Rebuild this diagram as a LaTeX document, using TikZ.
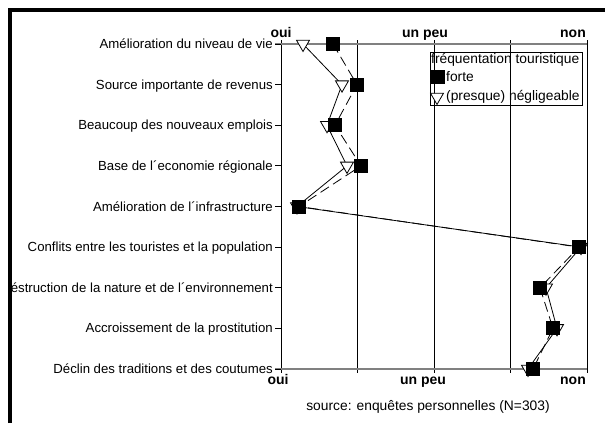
\documentclass[tikz,border=0pt]{standalone}
\usepackage{fontspec}
\setmainfont{Liberation Sans}
\usetikzlibrary{positioning,shapes.geometric,backgrounds}

\tikzset{
  axislbl/.style={font=\fontsize{14}{16}\selectfont\bfseries,inner sep=0pt},
  rowlbl/.style={anchor=base east,font=\fontsize{13.2}{15}\selectfont,inner sep=0pt},
  lgd/.style={anchor=base west,font=\fontsize{13.8}{15}\selectfont,inner sep=0pt},
  forte/.style={fill=black,minimum size=14pt,inner sep=0pt},
  faible/.style={regular polygon,regular polygon sides=3,shape border rotate=180,
    draw=black,fill=white,minimum size=15pt,inner sep=0pt,line width=0.8pt},
}

\begin{document}
\begin{tikzpicture}[x=1pt,y=-1pt]
\useasboundingbox (0,0) rectangle (605,423);

% grille
\foreach \x in {281,357.5,434,510.5,587}
  \draw[line width=0.9pt] (\x,40) -- (\x,373);
\draw[gray,line width=1.2pt] (275,44) -- (587,44);
\draw[gray,line width=1.2pt] (275,369) -- (587,369);

% echelle
\node[axislbl,anchor=base] (ouiH) at (281,37) {oui};
\node[axislbl,anchor=base] (peuH) at (425,37) {un peu};
\node[axislbl,anchor=base east] (nonH) at (586,37) {non};
\node[axislbl,anchor=base] (ouiB) at (278,384) {oui};
\node[axislbl,anchor=base] (peuB) at (423,384) {un peu};
\node[axislbl,anchor=base east] (nonB) at (586,384) {non};

% items
\foreach \lbl [count=\i] in {Amélioration du niveau de vie,
    Source importante de revenus,
    Beaucoup des nouveaux emplois,
    Base de l´economie régionale,
    Amélioration de l´infrastructure,
    Conflits entre les touristes et la population,
    éstruction de la nature et de l´environnement,
    Accroissement de la prostitution,
    Déclin des traditions et des coutumes}{
  \pgfmathsetmacro{\yy}{44+(\i-1)*40.625}
  \node[rowlbl] (q\i) at (273,\yy+4.5) {\lbl};
  \draw[line width=0.8pt] (275,\yy) -- (281,\yy);
}

% reponses
\foreach \xf/\xn [count=\i] in {333/303,357/342,335/327,361/347,299/297,
    579/581,540/546,553/557,533/528}{
  \pgfmathsetmacro{\yy}{44+(\i-1)*40.625}
  \node[faible] (n\i) at (\xn,\yy) {};
  \node[forte] (f\i) at (\xf,\yy) {};
}

\begin{pgfonlayer}{background}
\draw[line width=0.8pt] (n1.center) -- (n2.center) -- (n3.center) -- (n4.center)
  -- (n5.center) -- (n6.center) -- (n7.center) -- (n8.center) -- (n9.center);
\draw[line width=0.8pt,dash pattern=on 10pt off 5pt] (f1.center) -- (f2.center)
  -- (f3.center) -- (f4.center) -- (f5.center) -- (f6.center) -- (f7.center)
  -- (f8.center) -- (f9.center);
\end{pgfonlayer}

% legende
\node[draw,line width=0.6pt,minimum width=152pt,minimum height=53pt,
  anchor=north west,inner sep=0pt] (leg) at (430,52) {};
\node[lgd] (legT) at (431,63) {fréquentation touristique};
\node[forte] (legF) at (438,77) {};
\node[lgd] (legFt) at (446,81.5) {forte};
\node[faible] (legN) at (437,97) {};
\node[lgd] (legNt) at (446,100) {(presque) négligeable};

% source
\node[anchor=base,font=\fontsize{13.8}{15}\selectfont,inner sep=0pt] (src)
  at (428,410) {source: enquêtes personnelles (N=303)};

% cadre
\fill[white] (0,0) rectangle (8,423);
\draw[line width=3.5pt] (9.75,423) -- (9.75,9.75) -- (605,9.75);
\end{tikzpicture}
\end{document}
